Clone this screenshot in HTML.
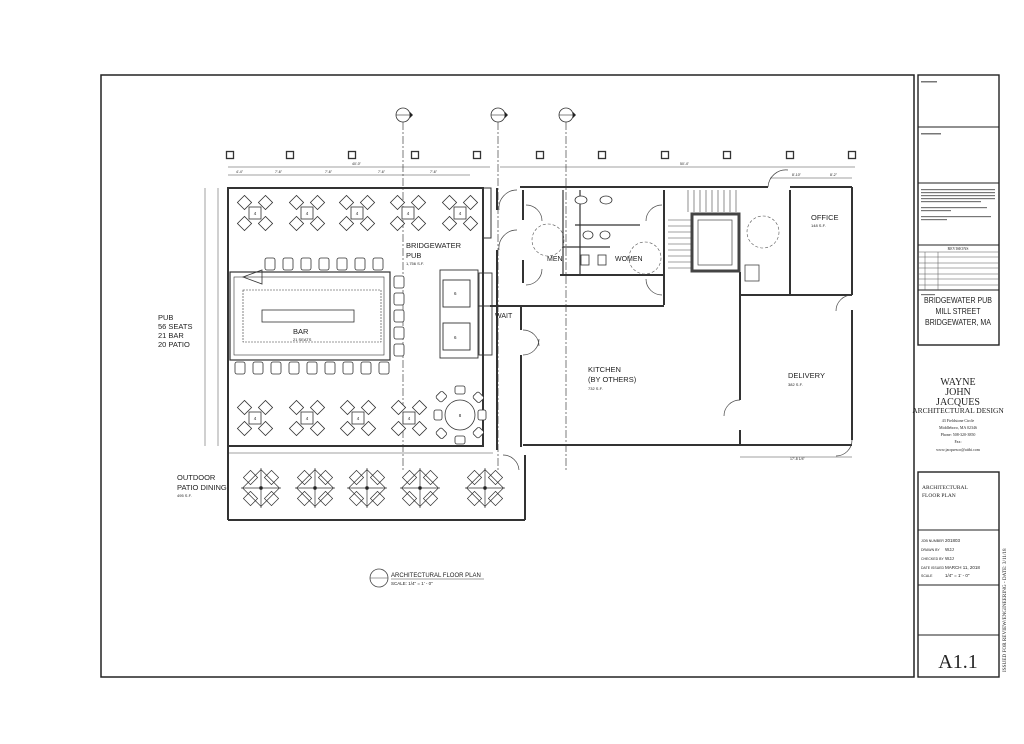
<!DOCTYPE html>
<html><head><meta charset="utf-8"><style>
html,body{margin:0;padding:0;background:#fff}
svg{display:block}
text{font-family:"Liberation Sans",sans-serif;fill:#222}
.s{font-family:"Liberation Serif",serif}
</style></head><body>
<svg width="1024" height="744" viewBox="0 0 1024 744" xmlns="http://www.w3.org/2000/svg">
<defs>
<g id="t4" fill="#fff" stroke="#333" stroke-width="0.8">
 <rect x="-15.5" y="-15.5" width="10" height="10" transform="rotate(45 -10.5 -10.5)"/>
 <rect x="5.5" y="-15.5" width="10" height="10" transform="rotate(45 10.5 -10.5)"/>
 <rect x="-15.5" y="5.5" width="10" height="10" transform="rotate(45 -10.5 10.5)"/>
 <rect x="5.5" y="5.5" width="10" height="10" transform="rotate(45 10.5 10.5)"/>
 <rect x="-6" y="-6" width="12" height="12"/>
</g>
<g id="tp" fill="none" stroke="#333" stroke-width="0.7">
 <rect x="-13" y="-13" width="26" height="26" transform="rotate(45)"/>
 <rect x="-15.5" y="-15.5" width="10" height="10" transform="rotate(45 -10.5 -10.5)"/>
 <rect x="5.5" y="-15.5" width="10" height="10" transform="rotate(45 10.5 -10.5)"/>
 <rect x="-15.5" y="5.5" width="10" height="10" transform="rotate(45 -10.5 10.5)"/>
 <rect x="5.5" y="5.5" width="10" height="10" transform="rotate(45 10.5 10.5)"/>
 <line x1="-20" y1="0" x2="20" y2="0"/><line x1="0" y1="-20" x2="0" y2="20"/>
 <circle r="1.5" fill="#222"/>
</g>
<g id="col"><rect x="-3.5" y="-3.5" width="7" height="7" fill="#fff" stroke="#333" stroke-width="1.3"/></g>
<g id="bub"><circle r="7" fill="#fff" stroke="#333" stroke-width="0.8"/><line x1="-7" y1="0" x2="7" y2="0" stroke="#333" stroke-width="0.6"/><path d="M7,-3 L10,0 L7,3Z" fill="#222"/></g>
<g id="stl"><rect x="-5" y="-6" width="10" height="12" rx="2" fill="#fff" stroke="#333" stroke-width="0.8"/></g>
</defs>

<!-- frames -->
<rect x="101" y="75" width="813" height="602" fill="none" stroke="#222" stroke-width="1.5"/>
<rect x="918" y="75" width="81" height="270" fill="none" stroke="#222" stroke-width="1.4"/>
<line x1="918" y1="127" x2="999" y2="127" stroke="#222"/>
<line x1="918" y1="183" x2="999" y2="183" stroke="#222"/>
<line x1="918" y1="245" x2="999" y2="245" stroke="#222"/>
<line x1="918" y1="290" x2="999" y2="290" stroke="#222"/>
<g stroke="#555" stroke-width="0.5">
<line x1="918" y1="252" x2="999" y2="252"/><line x1="918" y1="257" x2="999" y2="257"/>
<line x1="918" y1="263" x2="999" y2="263"/><line x1="918" y1="268" x2="999" y2="268"/>
<line x1="918" y1="274" x2="999" y2="274"/><line x1="918" y1="279" x2="999" y2="279"/>
<line x1="918" y1="285" x2="999" y2="285"/>
<line x1="925" y1="252" x2="925" y2="290"/><line x1="938" y1="252" x2="938" y2="290"/>
</g>
<text x="958" y="250" font-size="4" text-anchor="middle" class="s">REVISIONS</text>
<g fill="#777">
<rect x="921" y="81" width="16" height="1.5"/><rect x="921" y="133" width="20" height="1.5"/>
<rect x="921" y="189" width="74" height="1.2"/><rect x="921" y="192" width="74" height="1.2"/><rect x="921" y="195" width="74" height="1.2"/><rect x="921" y="198" width="74" height="1.2"/><rect x="921" y="201" width="60" height="1.2"/>
<rect x="921" y="207" width="66" height="1.2"/><rect x="921" y="210" width="30" height="1.2"/>
<rect x="921" y="216" width="70" height="1.2"/><rect x="921" y="219" width="26" height="1.2"/>
<rect x="921" y="294" width="14" height="1.2"/>
</g>
<g font-size="8" text-anchor="middle" transform="translate(958,0) scale(0.88,1)">
<text x="0" y="303">BRIDGEWATER PUB</text>
<text x="0" y="314">MILL STREET</text>
<text x="0" y="325">BRIDGEWATER, MA</text>
</g>
<text x="958" y="385" font-size="10" text-anchor="middle" class="s">WAYNE</text>
<text x="958" y="395" font-size="10" text-anchor="middle" class="s">JOHN</text>
<text x="958" y="405" font-size="10" text-anchor="middle" class="s">JACQUES</text>
<text x="958" y="413" font-size="7.5" text-anchor="middle" class="s">ARCHITECTURAL DESIGN</text>
<text x="958" y="422" font-size="4" text-anchor="middle" class="s">43 Fieldstone Circle</text>
<text x="958" y="429" font-size="4" text-anchor="middle" class="s">Middleboro, MA 02346</text>
<text x="958" y="436" font-size="4" text-anchor="middle" class="s">Phone: 508-320-3850</text>
<text x="958" y="443" font-size="4" text-anchor="middle" class="s">Fax:</text>
<text x="958" y="451" font-size="4" text-anchor="middle" class="s">www.jacquesco@attbi.com</text>
<rect x="918" y="472" width="81" height="205" fill="none" stroke="#222" stroke-width="1.4"/>
<line x1="918" y1="530" x2="999" y2="530" stroke="#222"/>
<line x1="918" y1="585" x2="999" y2="585" stroke="#222"/>
<line x1="918" y1="635" x2="999" y2="635" stroke="#222"/>
<text x="922" y="489" font-size="5.5" class="s">ARCHITECTURAL</text>
<text x="922" y="497" font-size="5.5" class="s">FLOOR PLAN</text>
<g font-size="3.5" class="s" fill="#444"><text x="921" y="542">JOB NUMBER</text><text x="921" y="551">DRAWN BY</text><text x="921" y="560">CHECKED BY</text><text x="921" y="569">DATE ISSUED</text><text x="921" y="577">SCALE</text></g>
<g font-size="4.5" class="s"><text x="945" y="542">201803</text><text x="945" y="551">WJJ</text><text x="945" y="560">WJJ</text><text x="945" y="569">MARCH 11, 2018</text><text x="945" y="577">1/4" = 1' - 0"</text></g>
<text x="958" y="668" font-size="20" text-anchor="middle" class="s">A1.1</text>
<text transform="translate(1006,672) rotate(-90)" font-size="5.2" class="s">ISSUED FOR REVIEW/ENGINEERING - DATE: 3/11/18</text>

<!-- grid lines & bubbles -->
<g stroke="#444" stroke-width="0.7" stroke-dasharray="8,2,2,2">
<line x1="403" y1="122" x2="403" y2="470"/><line x1="498" y1="122" x2="498" y2="470"/><line x1="566" y1="122" x2="566" y2="470"/>
</g>
<use href="#bub" x="403" y="115"/><use href="#bub" x="498" y="115"/><use href="#bub" x="566" y="115"/>
<use href="#col" x="230" y="155"/><use href="#col" x="290" y="155"/><use href="#col" x="352" y="155"/><use href="#col" x="415" y="155"/><use href="#col" x="477" y="155"/><use href="#col" x="540" y="155"/><use href="#col" x="602" y="155"/><use href="#col" x="665" y="155"/><use href="#col" x="727" y="155"/><use href="#col" x="790" y="155"/><use href="#col" x="852" y="155"/>

<g stroke="#444" stroke-width="0.5" fill="none">
<line x1="228" y1="167" x2="490" y2="167"/><line x1="228" y1="175" x2="470" y2="175"/>
<line x1="500" y1="167" x2="855" y2="167"/>
<line x1="228" y1="453" x2="493" y2="453"/>
<line x1="205" y1="188" x2="205" y2="446"/><line x1="218" y1="188" x2="218" y2="446"/>
<line x1="740" y1="457" x2="852" y2="457"/>
<line x1="770" y1="178" x2="852" y2="178"/>
</g>
<g font-size="3.5" fill="#444"><text x="352" y="165">40'-0"</text><text x="680" y="165">50'-4"</text><text x="236" y="173">4'-4"</text><text x="275" y="173">7'-6"</text><text x="325" y="173">7'-6"</text><text x="378" y="173">7'-6"</text><text x="430" y="173">7'-6"</text><text x="792" y="176">8'-10"</text><text x="830" y="176">8'-2"</text><text x="790" y="460">17'-8 1/4"</text></g>

<g stroke="#333" stroke-width="2" fill="none">
<rect x="228" y="188" width="255" height="258"/>
<line x1="520" y1="187" x2="768" y2="187"/><line x1="790" y1="187" x2="852" y2="187"/>
<line x1="852" y1="187" x2="852" y2="295"/><line x1="852" y1="310" x2="852" y2="440"/>
<line x1="523" y1="445" x2="852" y2="445"/>
<line x1="523" y1="190" x2="523" y2="220"/><line x1="523" y1="260" x2="523" y2="283"/>
<line x1="521" y1="305" x2="521" y2="330"/><line x1="521" y1="355" x2="521" y2="447"/>
<line x1="497" y1="188" x2="497" y2="210"/><line x1="497" y1="250" x2="497" y2="450"/>
<line x1="740" y1="272" x2="740" y2="400"/><line x1="740" y1="430" x2="740" y2="445"/>
<line x1="664" y1="190" x2="664" y2="305"/>
<line x1="560" y1="275" x2="664" y2="275"/>
<line x1="490" y1="306" x2="664" y2="306"/>
<line x1="740" y1="295" x2="852" y2="295"/>
<line x1="790" y1="190" x2="790" y2="295"/>
<line x1="228" y1="446" x2="228" y2="520"/><line x1="228" y1="520" x2="525" y2="520"/><line x1="525" y1="455" x2="525" y2="520"/>
<line x1="483" y1="188" x2="483" y2="238"/>
</g>
<rect x="483" y="188" width="8" height="50" fill="none" stroke="#333"/>
<g stroke="#333" stroke-width="1.2" fill="none">
<line x1="563" y1="190" x2="563" y2="275"/><line x1="575" y1="225" x2="640" y2="225"/>
<line x1="563" y1="247" x2="610" y2="247"/>
<line x1="580" y1="190" x2="580" y2="275"/>
</g>
<g fill="#fff" stroke="#333" stroke-width="0.8">
<ellipse cx="581" cy="200" rx="6" ry="4"/><ellipse cx="606" cy="200" rx="6" ry="4"/>
<ellipse cx="588" cy="235" rx="5" ry="4"/><ellipse cx="605" cy="235" rx="5" ry="4"/>
<rect x="581" y="255" width="8" height="10"/><rect x="598" y="255" width="8" height="10"/>
</g>
<g stroke="#555" stroke-width="0.6" fill="none" stroke-dasharray="3,2">
<circle cx="548" cy="240" r="16"/><circle cx="645" cy="258" r="16"/><circle cx="763" cy="232" r="16"/>
</g>
<g stroke="#444" stroke-width="0.7" fill="none">
<path d="M499,210 A18,18 0 0 1 517,190"/><path d="M499,250 A18,18 0 0 1 517,230"/>
<path d="M526,205 A16,16 0 0 1 542,221"/><path d="M526,285 A16,16 0 0 0 542,269"/>
<path d="M662,205 A16,16 0 0 0 646,221"/><path d="M662,295 A16,16 0 0 1 646,279"/>
<path d="M523,330 A16,16 0 0 1 539,346"/><path d="M523,355 A16,16 0 0 0 539,339"/>
<path d="M740,400 A16,16 0 0 0 724,416"/><path d="M852,295 A16,16 0 0 0 836,311"/>
<path d="M768,187 A18,18 0 0 1 788,170"/><path d="M852,440 A16,16 0 0 1 836,456"/>
<path d="M503,455 A16,16 0 0 1 519,470"/>
</g>
<g stroke="#444" stroke-width="0.6">
<line x1="688" y1="190" x2="688" y2="212"/><line x1="694" y1="190" x2="694" y2="212"/><line x1="700" y1="190" x2="700" y2="212"/><line x1="706" y1="190" x2="706" y2="212"/><line x1="712" y1="190" x2="712" y2="212"/><line x1="718" y1="190" x2="718" y2="212"/><line x1="724" y1="190" x2="724" y2="212"/><line x1="730" y1="190" x2="730" y2="212"/><line x1="736" y1="190" x2="736" y2="212"/>
<line x1="668" y1="220" x2="691" y2="220"/><line x1="668" y1="226" x2="691" y2="226"/><line x1="668" y1="232" x2="691" y2="232"/><line x1="668" y1="238" x2="691" y2="238"/><line x1="668" y1="244" x2="691" y2="244"/><line x1="668" y1="250" x2="691" y2="250"/><line x1="668" y1="256" x2="691" y2="256"/><line x1="668" y1="262" x2="691" y2="262"/><line x1="668" y1="268" x2="691" y2="268"/>
</g>
<rect x="692" y="214" width="47" height="57" fill="none" stroke="#444" stroke-width="3"/>
<rect x="698" y="220" width="34" height="45" fill="none" stroke="#444" stroke-width="0.7"/>
<rect x="745" y="265" width="14" height="16" fill="none" stroke="#444" stroke-width="0.8"/>

<g stroke="#333" fill="none">
<rect x="230" y="272" width="160" height="88" stroke-width="1.2"/>
<rect x="234" y="277" width="150" height="78" stroke-width="0.6"/>
<rect x="243" y="290" width="138" height="52" stroke-width="0.6" stroke-dasharray="2,1"/>
<rect x="262" y="310" width="92" height="12" stroke-width="0.8"/>
<path d="M243,277 L262,270 L262,284Z" stroke-width="0.8"/>
</g>
<g>
<use href="#stl" x="270" y="264"/><use href="#stl" x="288" y="264"/><use href="#stl" x="306" y="264"/><use href="#stl" x="324" y="264"/><use href="#stl" x="342" y="264"/><use href="#stl" x="360" y="264"/><use href="#stl" x="378" y="264"/>
<use href="#stl" x="240" y="368"/><use href="#stl" x="258" y="368"/><use href="#stl" x="276" y="368"/><use href="#stl" x="294" y="368"/><use href="#stl" x="312" y="368"/><use href="#stl" x="330" y="368"/><use href="#stl" x="348" y="368"/><use href="#stl" x="366" y="368"/><use href="#stl" x="384" y="368"/>
<use href="#stl" x="399" y="282"/><use href="#stl" x="399" y="299"/><use href="#stl" x="399" y="316"/><use href="#stl" x="399" y="333"/><use href="#stl" x="399" y="350"/>
</g>
<text x="293" y="334" font-size="7.5">BAR</text><text x="293" y="341" font-size="4">21 SEATS</text>
<g stroke="#333" fill="none" stroke-width="0.9">
<rect x="440" y="270" width="38" height="88"/>
<rect x="443" y="280" width="27" height="27"/><rect x="443" y="323" width="27" height="27"/>
<rect x="479" y="273" width="13" height="82"/>
<line x1="478" y1="306" x2="523" y2="306"/>
</g>
<text x="454" y="295" font-size="4.5">6</text><text x="454" y="339" font-size="4.5">6</text>

<g>
<use href="#t4" x="255" y="213"/><use href="#t4" x="307" y="213"/><use href="#t4" x="357" y="213"/><use href="#t4" x="408" y="213"/><use href="#t4" x="460" y="213"/>
<use href="#t4" x="255" y="418"/><use href="#t4" x="307" y="418"/><use href="#t4" x="358" y="418"/><use href="#t4" x="409" y="418"/>
</g>
<g font-size="4.5" text-anchor="middle"><text x="255" y="215">4</text><text x="307" y="215">4</text><text x="357" y="215">4</text><text x="408" y="215">4</text><text x="460" y="215">4</text><text x="255" y="420">4</text><text x="307" y="420">4</text><text x="358" y="420">4</text><text x="409" y="420">4</text></g>
<g stroke="#333" stroke-width="0.8" fill="#fff">
<rect x="455" y="386" width="10" height="8" rx="2"/><rect x="455" y="436" width="10" height="8" rx="2"/>
<rect x="434" y="410" width="8" height="10" rx="2"/><rect x="478" y="410" width="8" height="10" rx="2"/>
<rect x="437" y="393" width="9" height="8" rx="2" transform="rotate(-45 441 397)"/><rect x="474" y="393" width="9" height="8" rx="2" transform="rotate(45 478 397)"/>
<rect x="437" y="429" width="9" height="8" rx="2" transform="rotate(45 441 433)"/><rect x="474" y="429" width="9" height="8" rx="2" transform="rotate(-45 478 433)"/>
<circle cx="460" cy="415" r="15"/>
</g>
<text x="460" y="417" font-size="4.5" text-anchor="middle">8</text>
<use href="#tp" x="261" y="488"/><use href="#tp" x="315" y="488"/><use href="#tp" x="367" y="488"/><use href="#tp" x="420" y="488"/><use href="#tp" x="485" y="488"/>

<text x="158" y="320" font-size="7.5">PUB</text><text x="158" y="329" font-size="7.5">56 SEATS</text><text x="158" y="338" font-size="7.5">21 BAR</text><text x="158" y="347" font-size="7.5">20 PATIO</text>
<text x="406" y="248" font-size="7.5">BRIDGEWATER</text><text x="406" y="258" font-size="7.5">PUB</text><text x="406" y="265" font-size="4">1,756 S.F.</text>
<text x="495" y="318" font-size="7">WAIT</text>
<text x="547" y="261" font-size="7">MEN</text><text x="615" y="261" font-size="7">WOMEN</text>
<text x="588" y="372" font-size="7.5">KITCHEN</text><text x="588" y="382" font-size="7.5">(BY OTHERS)</text><text x="588" y="390" font-size="4">732 S.F.</text>
<text x="788" y="378" font-size="7.5">DELIVERY</text><text x="788" y="386" font-size="4">382 S.F.</text>
<text x="811" y="220" font-size="7.5">OFFICE</text><text x="811" y="227" font-size="4">148 S.F.</text>
<text x="177" y="480" font-size="7.5">OUTDOOR</text><text x="177" y="490" font-size="7.5">PATIO DINING</text><text x="177" y="497" font-size="4">495 S.F.</text>
<circle cx="379" cy="578" r="9" fill="none" stroke="#444" stroke-width="0.8"/><line x1="370" y1="578" x2="388" y2="578" stroke="#444" stroke-width="0.6"/>
<text x="391" y="577" font-size="6" fill="#333">ARCHITECTURAL  FLOOR PLAN</text>
<line x1="391" y1="579" x2="484" y2="579" stroke="#444" stroke-width="0.5"/>
<text x="391" y="585" font-size="4.5" fill="#444">SCALE: 1/4" = 1' - 0"</text>
</svg>
</body></html>
